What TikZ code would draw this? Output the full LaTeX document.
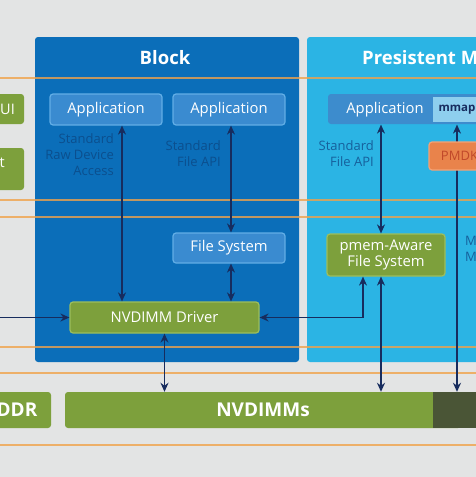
\documentclass[tikz,border=0pt]{standalone}
\usepackage{fontspec}
\setmainfont{Open Sans}
\usetikzlibrary{arrows.meta,calc}
\definecolor{bg}{HTML}{E3E4E4}
\definecolor{blockblue}{HTML}{0B6EB9}
\definecolor{pmblue}{HTML}{2BB4E4}
\definecolor{appfill}{HTML}{3A8BD0}
\definecolor{appline}{HTML}{62AEE6}
\definecolor{papfill}{HTML}{3D8CCD}
\definecolor{mmapfill}{HTML}{8ECFEE}
\definecolor{grn}{HTML}{7DA03C}
\definecolor{grnline}{HTML}{9DBE5C}
\definecolor{dkolive}{HTML}{4A5536}
\definecolor{orng}{HTML}{F0A24A}
\definecolor{navy}{HTML}{172C5E}
\definecolor{lblA}{HTML}{0C4F8E}
\definecolor{lblB}{HTML}{16609C}
\definecolor{pmdkfill}{HTML}{E9834B}
\definecolor{pmdkline}{HTML}{F3A276}
\definecolor{pmdktext}{HTML}{C0482A}
\tikzset{
  panel/.style={draw=none, rounded corners=3pt, inner sep=0pt},
  boxb/.style={draw=appline, fill=appfill, line width=1.2pt, rounded corners=3pt, inner sep=0pt, text=white, font=\fontsize{14.8}{17}\selectfont},
  boxg/.style={draw=grnline, fill=grn, line width=1.2pt, rounded corners=3pt, inner sep=0pt, text=white, font=\fontsize{14.8}{16}\selectfont, align=center},
  bigg/.style={draw=none, fill=grn, rounded corners=3pt, inner sep=0pt, text=white, font=\fontsize{19}{22}\selectfont\bfseries},
  ttl/.style={text=white, inner sep=0pt, font=\fontsize{18.5}{22}\selectfont\bfseries},
  lab/.style={inner sep=0pt, align=right, font=\fontsize{13}{16}\selectfont},
  oline/.style={draw=orng, line width=1.6pt, opacity=0.8},
  arr/.style={draw=navy, line width=1.6pt, {Stealth[length=9pt,width=8pt]}-{Stealth[length=9pt,width=8pt]}},
  arrone/.style={draw=navy, line width=1.6pt, -{Stealth[length=9pt,width=8pt]}}
}
\begin{document}
\begin{tikzpicture}[x=1pt,y=-1pt]
\useasboundingbox (0,0) rectangle (476,477);
\clip (0,0) rectangle (476,477);
\fill[bg] (0,0) rectangle (476,477);

% panels
\node[panel, fill=blockblue, minimum width=264pt, minimum height=325pt] (blk) at (167,199.5) {};
\node[panel, fill=pmblue, minimum width=200pt, minimum height=325pt] (pm) at (407,199.5) {};
\node[ttl] (tblk) at (165,58) {Block};
\node[ttl, anchor=west] (tpm) at (362,58) {Presistent M};

% orange lines
\draw[oline] (0,78) -- (476,78);
\draw[oline] (0,200) -- (476,200);
\draw[oline] (0,217) -- (476,217);
\draw[oline] (0,347) -- (476,347);
\draw[oline] (0,373) -- (476,373);
\draw[oline] (0,445) -- (476,445);

% left partial boxes
\node[bigg, minimum width=33pt, minimum height=30pt, font=\fontsize{14.5}{17}\selectfont] (ui) at (7.5,109) {UI};
\node[bigg, minimum width=33pt, minimum height=42pt] (lt) at (7.5,169) {};
\node[text=white, inner sep=0pt, font=\fontsize{14.5}{17}\selectfont, anchor=east] (ltt) at (5,163) {t};
\node[bigg, minimum width=68pt, minimum height=36pt] (ddr) at (17,410) {DDR};

% Block column
\node[boxb, minimum width=112pt, minimum height=31pt] (app1) at (106,109.5) {Application};
\node[boxb, minimum width=112pt, minimum height=31pt] (app2) at (229,109.5) {Application};
\node[lab, text=lblA, anchor=north east] (rawl) at (114,133) {Standard\\Raw Device\\Access};
\node[lab, text=lblA, anchor=north east] (fapl) at (221,140) {Standard\\File API};
\node[boxb, minimum width=112pt, minimum height=30pt] (fs) at (229,248) {File System};
\node[boxg, minimum width=189pt, minimum height=31pt] (drv) at (164.5,317.5) {NVDIMM Driver};

% Persistent column
\node[boxb, draw=none, fill=papfill, minimum width=160pt, minimum height=30pt] (papp) at (408,109) {};
\node[text=white, inner sep=0pt, font=\fontsize{14.8}{17}\selectfont] (papptxt) at (385,109.5) {Application};
\node[fill=mmapfill, inner sep=0pt, minimum width=48pt, minimum height=25pt, text=navy, font=\fontsize{11.5}{13}\selectfont\bfseries] (mmap) at (457,109.5) {mmap};
\node[lab, text=lblB, anchor=north east] (pfapl) at (374,140) {Standard\\File API};
\node[boxg, minimum width=118pt, minimum height=42pt] (pfs) at (386,255) {pmem-Aware\\File System};
\node[lab, text=lblB, anchor=north west, align=left] (mm) at (465,236) {M\\M};

% bottom bar
\node[bigg, minimum width=396pt, minimum height=36pt] (nvd) at (263,410) {NVDIMMs};
\node[fill=dkolive, inner sep=0pt, minimum width=60pt, minimum height=36pt] (nvdk) at (463,410) {};

% connectors
\draw[arr] ([xshift=16pt]app1.south) -- ([xshift=16pt]app1.south |- drv.north);
\draw[arr] ([xshift=2pt]app2.south) -- ([xshift=2pt]fs.north);
\draw[arr] ([xshift=2pt]fs.south) -- ([xshift=2pt]fs.south |- drv.north);
\draw[arr] (drv.south) -- (drv.south |- nvd.north);
\coordinate (lin) at (0,317.5);
\draw[arrone] (lin) -- (drv.west);
\coordinate (pfl) at ([xshift=-23pt]pfs.south);
\draw[arr] (pfl) |- (drv.east);
\coordinate (pfm) at ([xshift=-5pt]pfs.north);
\draw[arr] (pfm |- papp.south) -- (pfm);
\coordinate (pfb) at ([xshift=-5pt]pfs.south);
\draw[arr] (pfb) -- (pfb |- nvd.north);
\draw[arr] (mmap.south |- papp.south) -- (mmap.south |- nvd.north);

% PMDK on top of the mmap connector
\node[draw=pmdkline, fill=pmdkfill, line width=1.2pt, rounded corners=3pt, inner sep=0pt, minimum width=61pt, minimum height=28pt, text=pmdktext, font=\fontsize{13}{15}\selectfont] (pmdk) at (459.5,156) {PMDK};
\end{tikzpicture}
\end{document}
